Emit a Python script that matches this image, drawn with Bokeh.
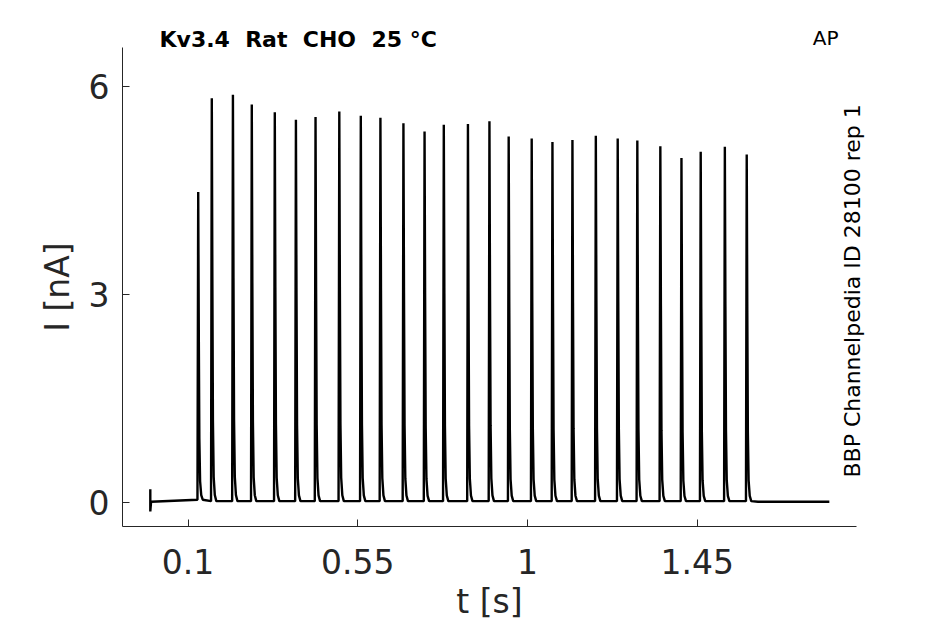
import math
from bokeh.plotting import figure
from bokeh.models import FixedTicker, Range1d, Title, LinearAxis
from bokeh.embed import file_html
from bokeh.resources import INLINE

# ---- data ----
spike_t = [0.127, 0.163, 0.219, 0.269, 0.330, 0.386, 0.438, 0.501, 0.558,
           0.610, 0.671, 0.727, 0.778, 0.842, 0.899, 0.950, 1.011, 1.066,
           1.119, 1.181, 1.239, 1.291, 1.352, 1.408, 1.459, 1.523, 1.581]
spike_peak = [4.48, 5.83, 5.88, 5.74, 5.63, 5.52, 5.56, 5.64, 5.58,
              5.55, 5.47, 5.35, 5.45, 5.46, 5.50, 5.28, 5.25, 5.20,
              5.23, 5.29, 5.25, 5.22, 5.14, 4.97, 5.06, 5.13, 5.02]
artifact_t = 0.0
artifact_hi = 0.19
artifact_lo = -0.13
base_start = 0.01
base_pre = 0.04
base_mid = 0.02
base_end = 0.01
trace_end_t = 1.80

x_range = (-0.0737, 1.872)
y_range = (-0.346, 6.563)
x_ticks = [0.1, 0.55, 1, 1.45]
x_tick_labels = ["0.1", "0.55", "1", "1.45"]
y_ticks = [0, 3, 6]

title_text = "Kv3.4\u00a0 Rat\u00a0 CHO\u00a0 25 °C"
corner_text = "AP"
side_text = "BBP Channelpedia ID 28100 rep 1"
side_text_start = 0.36   # I value where the vertical note begins
x_label = "t [s]"
y_label = "I [nA]"

# spike shape template (time offset, fraction toward peak above baseline)
shape_dt = [-0.002, 0.0, 0.0015, 0.003, 0.005, 0.008, 0.012]
shape_fr = [0.0, 1.0, 0.55, 0.20, 0.06, 0.015, 0.0]

# ---- build trace ----
xs = [artifact_t, artifact_t, artifact_t + 0.002]
ys = [artifact_hi, artifact_lo, base_start]
for i, (t, pk) in enumerate(zip(spike_t, spike_peak)):
    b = base_pre if i == 0 else base_mid
    for dt, fr in zip(shape_dt, shape_fr):
        xs.append(t + dt)
        ys.append(b + fr * (pk - b))
xs.append(spike_t[-1] + 0.03)
ys.append(base_end)
xs.append(trace_end_t)
ys.append(base_end)

FONT = "DejaVu Sans"
GREY = "#262626"

p = figure(width=945, height=624, output_backend="svg", toolbar_location=None,
           title=None,
           x_range=Range1d(*x_range), y_range=Range1d(*y_range),
           min_border_left=122, min_border_right=89, min_border_top=47,
           min_border_bottom=98)
p.outline_line_color = None
p.xgrid.visible = False
p.ygrid.visible = False
p.background_fill_color = "white"
p.border_fill_color = "white"

p.line(xs, ys, line_color="black", line_width=2.4)

for ax in (p.xaxis[0], p.yaxis[0]):
    ax.axis_line_color = GREY
    ax.axis_line_width = 1
    ax.major_tick_line_color = GREY
    ax.major_tick_in = 7
    ax.major_tick_out = 0
    ax.minor_tick_line_color = None
    ax.major_label_text_font = FONT
    ax.major_label_text_font_size = "33px"
    ax.major_label_text_color = GREY
    ax.axis_label_text_font = FONT
    ax.axis_label_text_font_size = "33px"
    ax.axis_label_text_color = GREY
    ax.axis_label_text_font_style = "normal"

p.xaxis[0].ticker = FixedTicker(ticks=x_ticks)
p.xaxis[0].major_label_overrides = {t: l for t, l in zip(x_ticks, x_tick_labels)}
p.xaxis[0].major_label_standoff = 22
p.xaxis[0].axis_label = x_label
p.xaxis[0].axis_label_standoff = 5
p.yaxis[0].ticker = FixedTicker(ticks=y_ticks)
p.yaxis[0].major_label_standoff = 13
p.yaxis[0].axis_label = y_label
p.yaxis[0].axis_label_standoff = 9

# right-hand vertical note, drawn as the single tick label of a bare right axis
side_axis = LinearAxis(ticker=FixedTicker(ticks=[side_text_start]),
                       major_label_overrides={side_text_start: side_text},
                       axis_line_color=None, major_tick_line_color=None,
                       minor_tick_line_color=None,
                       major_tick_out=0, major_tick_in=0,
                       major_label_orientation=math.pi / 2,
                       major_label_standoff=-4,
                       major_label_text_font=FONT,
                       major_label_text_font_size="22px",
                       major_label_text_font_style="normal",
                       major_label_text_color="black")
p.add_layout(side_axis, "right")

# header texts above the plot area
p.add_layout(Title(text=title_text, align="left", offset=37,
                   vertical_align="bottom", standoff=-8,
                   text_font=FONT, text_font_size="22px",
                   text_font_style="bold", text_color="black"), "above")
p.add_layout(Title(text=corner_text, align="right", offset=18,
                   vertical_align="bottom", standoff=-42,
                   text_font=FONT, text_font_size="20px",
                   text_font_style="normal", text_color="black"), "above")

open("out.html", "w").write(file_html(p, INLINE))
